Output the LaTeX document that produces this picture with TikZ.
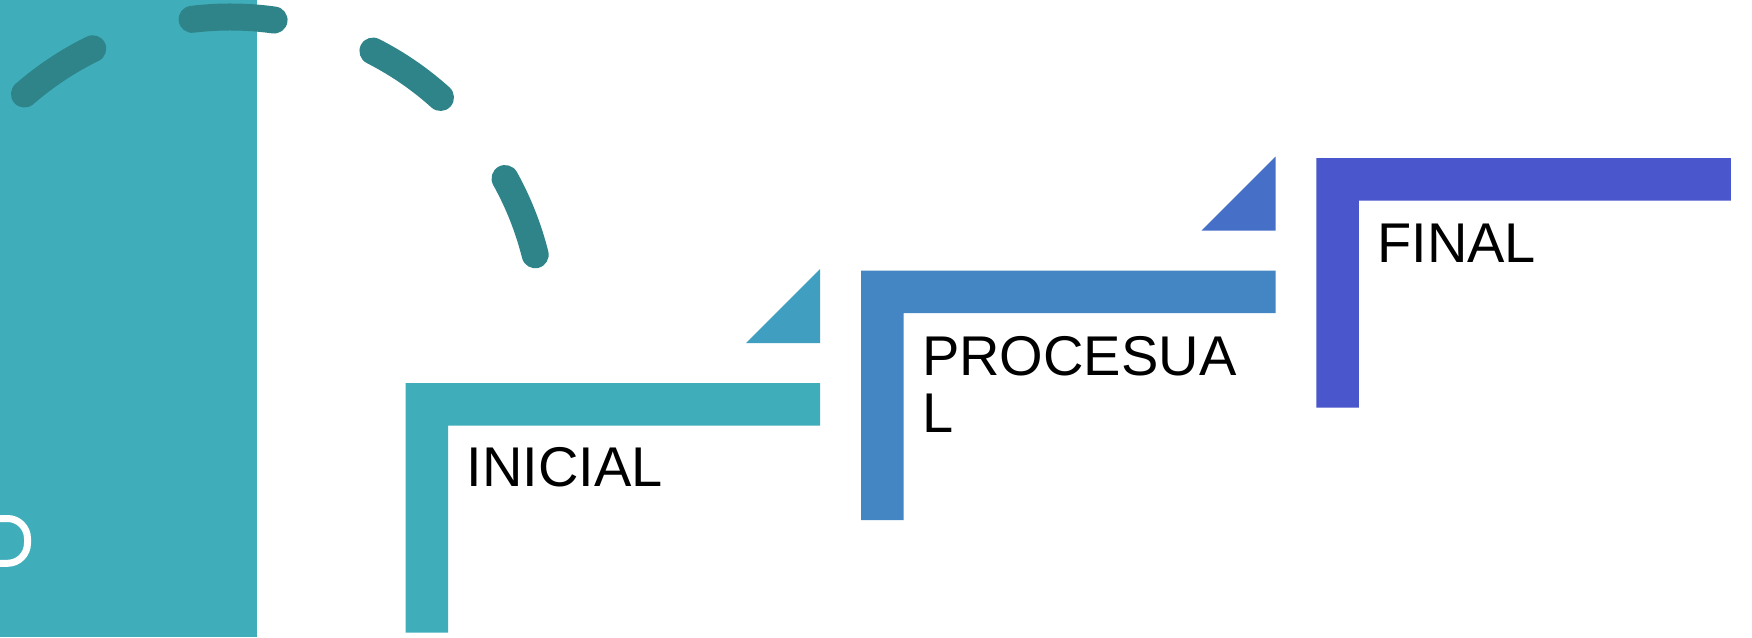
\documentclass[tikz,border=0pt]{standalone}
\usepackage{fontspec}
\setmainfont{Liberation Sans}
\definecolor{tealbg}{HTML}{40AEBA}
\definecolor{tri1}{HTML}{409EC0}
\definecolor{proc}{HTML}{4485C4}
\definecolor{tri2}{HTML}{4670C8}
\definecolor{fin}{HTML}{4956CC}
\definecolor{dashc}{HTML}{2E8489}
\tikzset{
  lbl/.style={inner sep=0pt, anchor=base west, text=black,
    font=\fontsize{56}{57.7}\selectfont},
  dasharc/.style={draw=dashc, line width=27pt, line cap=round,
    dash pattern=on 82.2pt off 104.1pt},
  outline/.style={draw=white, line width=7pt, rounded corners=20pt}
}
\begin{document}
\begin{tikzpicture}[x=1pt,y=-1pt]
  % canvas
  \fill[white] (0,0) rectangle (1752,637);
  \useasboundingbox (0,0) rectangle (1752,637);
  % left teal panel
  \fill[tealbg] (0,0) rectangle (257,637);
  % white partial outline at left edge
  \draw[outline] (-10,518.5) -- (27.5,518.5) -- (27.5,563.3) -- (-10,563.3);
  % dashed arc
  \draw[dasharc] (230.5,331.1) ++(-131:314.1)
    arc[start angle=-131, end angle=-14, radius=314.1];
  % L shapes
  \foreach \x/\y/\c in {405.6/383/tealbg, 861/270.6/proc, 1316.3/158.2/fin}{
    \fill[\c] (\x,\y) -- ++(414.5,0) -- ++(0,42.5) -- ++(-372,0)
      -- ++(0,207) -- ++(-42.5,0) -- cycle;
  }
  % triangles
  \fill[tri1] (746.1,343) -- (820.1,269) -- (820.1,343) -- cycle;
  \fill[tri2] (1201.5,230.6) -- (1275.5,156.6) -- (1275.5,230.6) -- cycle;
  % labels
  \node[lbl] (inicial) at (466.5,486.5) {INICIAL};
  \node[lbl] (procesual) at (922,375) {\vtop{\hbox{PROCESUA}\hbox{L}}};
  \node[lbl] (final) at (1377,262.7) {FINAL};
\end{tikzpicture}
\end{document}
